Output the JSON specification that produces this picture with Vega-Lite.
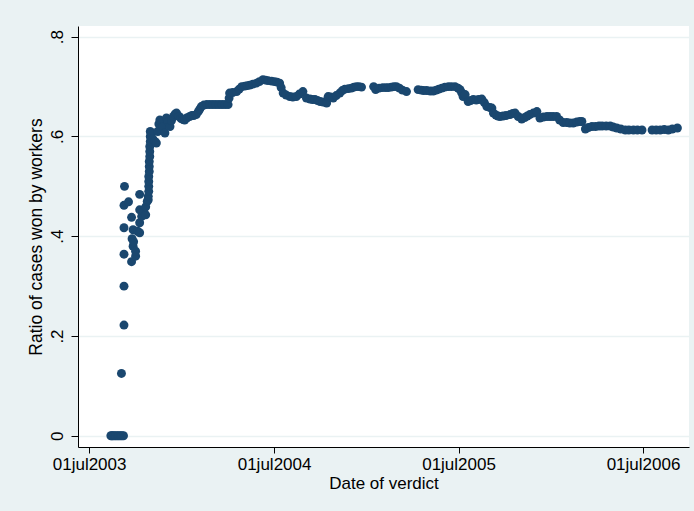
{
  "$schema": "https://vega.github.io/schema/vega-lite/v6.json",
  "width": 611,
  "height": 421,
  "autosize": "none",
  "padding": {"left": 78, "top": 26, "right": 5, "bottom": 64},
  "background": "#EAF2F3",
  "config": {
    "view": {"fill": "white", "stroke": null},
    "font": "Liberation Sans"
  },
  "data": {"values": [
    {"d":"2003-08-13","r":0},{"d":"2003-08-15","r":0},{"d":"2003-08-17","r":0},{"d":"2003-08-20","r":0},{"d":"2003-08-23","r":0},{"d":"2003-08-26","r":0},{"d":"2003-08-29","r":0},{"d":"2003-09-01","r":0},{"d":"2003-09-04","r":0},{"d":"2003-09-07","r":0},
    {"d":"2003-09-03","r":0.125},
    {"d":"2003-09-08","r":0.222},{"d":"2003-09-08","r":0.30},{"d":"2003-09-08","r":0.364},{"d":"2003-09-08","r":0.417},{"d":"2003-09-08","r":0.462},
    {"d":"2003-09-09","r":0.50},
    {"d":"2003-09-17","r":0.469},
    {"d":"2003-09-23","r":0.438},{"d":"2003-09-23","r":0.349},
    {"d":"2003-09-24","r":0.395},
    {"d":"2003-09-26","r":0.413},{"d":"2003-09-26","r":0.38},
    {"d":"2003-09-27","r":0.389},
    {"d":"2003-10-01","r":0.36},{"d":"2003-10-01","r":0.37},
    {"d":"2003-10-05","r":0.41},
    {"d":"2003-10-09","r":0.407},{"d":"2003-10-09","r":0.427},{"d":"2003-10-09","r":0.453},{"d":"2003-10-09","r":0.484},
    {"d":"2003-10-13","r":0.44},
    {"d":"2003-10-17","r":0.45},
    {"d":"2003-10-21","r":0.443},{"d":"2003-10-21","r":0.459},
    {"d":"2003-10-24","r":0.47},
    {"d":"2003-10-26","r":0.473},{"d":"2003-10-26","r":0.48},
    {"d":"2003-10-27","r":0.49},{"d":"2003-10-27","r":0.50},{"d":"2003-10-27","r":0.51},{"d":"2003-10-27","r":0.52},
    {"d":"2003-10-28","r":0.53},{"d":"2003-10-28","r":0.54},{"d":"2003-10-28","r":0.55},
    {"d":"2003-10-29","r":0.56},{"d":"2003-10-29","r":0.57},{"d":"2003-10-29","r":0.58},
    {"d":"2003-10-30","r":0.59},{"d":"2003-10-30","r":0.60},{"d":"2003-10-30","r":0.61},
    {"d":"2003-11-01","r":0.605},{"d":"2003-11-04","r":0.595},{"d":"2003-11-08","r":0.59},{"d":"2003-11-11","r":0.587},
    {"d":"2003-11-14","r":0.61},{"d":"2003-11-16","r":0.625},{"d":"2003-11-18","r":0.633},{"d":"2003-11-21","r":0.628},
    {"d":"2003-11-24","r":0.62},{"d":"2003-11-28","r":0.607},{"d":"2003-12-01","r":0.637},{"d":"2003-12-04","r":0.63},
    {"d":"2003-12-08","r":0.62},{"d":"2003-12-11","r":0.632},{"d":"2003-12-15","r":0.64},{"d":"2003-12-18","r":0.645},
    {"d":"2003-12-21","r":0.647},{"d":"2003-12-26","r":0.64},{"d":"2003-12-30","r":0.636},
    {"d":"2004-01-03","r":0.634},{"d":"2004-01-06","r":0.633},{"d":"2004-01-10","r":0.637},{"d":"2004-01-16","r":0.64},
    {"d":"2004-01-20","r":0.642},{"d":"2004-01-24","r":0.642},{"d":"2004-01-29","r":0.644},{"d":"2004-02-02","r":0.65},
    {"d":"2004-02-05","r":0.655},{"d":"2004-02-08","r":0.66},{"d":"2004-02-13","r":0.663},{"d":"2004-02-19","r":0.664},
    {"d":"2004-02-25","r":0.664},{"d":"2004-03-02","r":0.664},{"d":"2004-03-08","r":0.664},{"d":"2004-03-14","r":0.664},
    {"d":"2004-03-20","r":0.664},{"d":"2004-03-26","r":0.664},{"d":"2004-04-01","r":0.664},{"d":"2004-04-03","r":0.677},
    {"d":"2004-04-04","r":0.687},{"d":"2004-04-10","r":0.688},{"d":"2004-04-18","r":0.69},{"d":"2004-04-23","r":0.695},
    {"d":"2004-04-28","r":0.70},{"d":"2004-05-04","r":0.701},{"d":"2004-05-09","r":0.702},{"d":"2004-05-14","r":0.703},
    {"d":"2004-05-20","r":0.705},{"d":"2004-05-27","r":0.707},{"d":"2004-06-02","r":0.71},{"d":"2004-06-09","r":0.714},
    {"d":"2004-06-14","r":0.713},{"d":"2004-06-19","r":0.712},{"d":"2004-06-26","r":0.711},{"d":"2004-07-02","r":0.71},
    {"d":"2004-07-07","r":0.709},{"d":"2004-07-12","r":0.707},{"d":"2004-07-15","r":0.698},{"d":"2004-07-19","r":0.687},
    {"d":"2004-07-25","r":0.683},{"d":"2004-08-01","r":0.68},{"d":"2004-08-07","r":0.679},{"d":"2004-08-14","r":0.68},
    {"d":"2004-08-20","r":0.685},{"d":"2004-08-27","r":0.69},{"d":"2004-09-03","r":0.677},{"d":"2004-09-10","r":0.675},
    {"d":"2004-09-15","r":0.674},{"d":"2004-09-20","r":0.674},{"d":"2004-09-25","r":0.672},{"d":"2004-09-30","r":0.67},
    {"d":"2004-10-06","r":0.669},{"d":"2004-10-13","r":0.667},{"d":"2004-10-16","r":0.68},{"d":"2004-10-21","r":0.679},
    {"d":"2004-10-26","r":0.677},{"d":"2004-11-01","r":0.682},{"d":"2004-11-08","r":0.687},{"d":"2004-11-13","r":0.692},
    {"d":"2004-11-18","r":0.695},{"d":"2004-11-25","r":0.696},{"d":"2004-12-01","r":0.697},{"d":"2004-12-06","r":0.699},
    {"d":"2004-12-11","r":0.70},{"d":"2004-12-16","r":0.70},{"d":"2004-12-21","r":0.699},
    {"d":"2005-01-14","r":0.70},{"d":"2005-01-18","r":0.694},{"d":"2005-01-25","r":0.697},{"d":"2005-02-01","r":0.698},
    {"d":"2005-02-07","r":0.698},{"d":"2005-02-12","r":0.698},{"d":"2005-02-18","r":0.699},{"d":"2005-02-23","r":0.70},
    {"d":"2005-02-28","r":0.70},{"d":"2005-03-06","r":0.697},{"d":"2005-03-12","r":0.693},{"d":"2005-03-20","r":0.69},
    {"d":"2005-04-12","r":0.694},{"d":"2005-04-18","r":0.693},{"d":"2005-04-23","r":0.692},{"d":"2005-04-29","r":0.692},
    {"d":"2005-05-06","r":0.691},{"d":"2005-05-12","r":0.691},{"d":"2005-05-18","r":0.693},{"d":"2005-05-23","r":0.695},
    {"d":"2005-05-29","r":0.697},{"d":"2005-06-04","r":0.699},{"d":"2005-06-11","r":0.70},{"d":"2005-06-17","r":0.70},
    {"d":"2005-06-24","r":0.70},{"d":"2005-06-30","r":0.697},{"d":"2005-07-04","r":0.694},{"d":"2005-07-07","r":0.688},
    {"d":"2005-07-10","r":0.68},{"d":"2005-07-14","r":0.684},{"d":"2005-07-20","r":0.67},{"d":"2005-07-25","r":0.672},
    {"d":"2005-07-30","r":0.674},{"d":"2005-08-05","r":0.673},{"d":"2005-08-10","r":0.674},{"d":"2005-08-16","r":0.675},
    {"d":"2005-08-21","r":0.668},{"d":"2005-08-26","r":0.66},{"d":"2005-09-01","r":0.658},{"d":"2005-09-05","r":0.657},
    {"d":"2005-09-08","r":0.647},{"d":"2005-09-13","r":0.643},{"d":"2005-09-17","r":0.641},{"d":"2005-09-21","r":0.64},
    {"d":"2005-09-27","r":0.641},{"d":"2005-10-03","r":0.642},{"d":"2005-10-11","r":0.644},{"d":"2005-10-16","r":0.646},
    {"d":"2005-10-21","r":0.647},{"d":"2005-10-27","r":0.64},{"d":"2005-11-03","r":0.635},{"d":"2005-11-09","r":0.638},
    {"d":"2005-11-14","r":0.641},{"d":"2005-11-19","r":0.644},{"d":"2005-11-26","r":0.647},{"d":"2005-12-03","r":0.65},
    {"d":"2005-12-09","r":0.637},{"d":"2005-12-16","r":0.639},{"d":"2005-12-23","r":0.64},{"d":"2005-12-29","r":0.64},
    {"d":"2006-01-04","r":0.64},{"d":"2006-01-11","r":0.64},{"d":"2006-01-17","r":0.633},{"d":"2006-01-24","r":0.628},
    {"d":"2006-01-31","r":0.628},{"d":"2006-02-06","r":0.627},{"d":"2006-02-13","r":0.627},{"d":"2006-02-20","r":0.629},
    {"d":"2006-02-26","r":0.63},{"d":"2006-03-02","r":0.63},{"d":"2006-03-09","r":0.615},{"d":"2006-03-15","r":0.618},
    {"d":"2006-03-22","r":0.62},{"d":"2006-03-29","r":0.62},{"d":"2006-04-05","r":0.621},{"d":"2006-04-11","r":0.621},
    {"d":"2006-04-19","r":0.621},{"d":"2006-04-27","r":0.621},{"d":"2006-05-03","r":0.619},{"d":"2006-05-10","r":0.617},
    {"d":"2006-05-18","r":0.615},{"d":"2006-05-27","r":0.613},{"d":"2006-06-03","r":0.613},{"d":"2006-06-12","r":0.613},
    {"d":"2006-06-20","r":0.613},{"d":"2006-06-29","r":0.613},{"d":"2006-07-19","r":0.613},{"d":"2006-07-27","r":0.613},
    {"d":"2006-08-04","r":0.613},{"d":"2006-08-12","r":0.614},{"d":"2006-08-20","r":0.613},{"d":"2006-08-28","r":0.615},
    {"d":"2006-09-07","r":0.617}
  ]},
  "mark": {"type": "circle", "size": 80, "color": "#1a476f", "opacity": 1},
  "encoding": {
    "x": {
      "field": "d", "type": "temporal", "title": "Date of verdict",
      "scale": {"type": "utc", "domain": [{"year": 2003, "month": 6, "date": 9, "utc": true}, {"year": 2006, "month": 9, "date": 30, "utc": true}]},
      "axis": {
        "values": [
          {"year": 2003, "month": 7, "date": 1, "utc": true},
          {"year": 2004, "month": 7, "date": 1, "utc": true},
          {"year": 2005, "month": 7, "date": 1, "utc": true},
          {"year": 2006, "month": 7, "date": 1, "utc": true}
        ],
        "labelExpr": "'01jul' + utcFormat(datum.value, '%Y')",
        "grid": false,
        "domainColor": "black", "domainWidth": 1,
        "tickColor": "black", "tickSize": 6, "tickWidth": 1,
        "labelFontSize": 17, "labelColor": "black", "labelPadding": 3,
        "labelFlush": false, "labelOverlap": false,
        "titleFontSize": 17, "titleFontWeight": "normal", "titleColor": "black", "titlePadding": 3
      }
    },
    "y": {
      "field": "r", "type": "quantitative", "title": "Ratio of cases won by workers",
      "scale": {"domain": [-0.0225, 0.8215], "nice": false, "zero": false},
      "axis": {
        "values": [0, 0.2, 0.4, 0.6, 0.8],
        "labelExpr": "datum.value == 0 ? '0' : '.' + round(datum.value * 10)",
        "grid": true, "gridColor": "#EAF2F3", "gridWidth": 1.5,
        "domainColor": "black", "domainWidth": 1,
        "tickColor": "black", "tickSize": 7, "tickWidth": 1,
        "labelFontSize": 17, "labelColor": "black", "labelAngle": 270,
        "labelAlign": "center", "labelBaseline": "alphabetic", "labelPadding": 9,
        "titleFontSize": 17.5, "titleFontWeight": "normal", "titleColor": "black", "titlePadding": 3
      }
    }
  }
}
